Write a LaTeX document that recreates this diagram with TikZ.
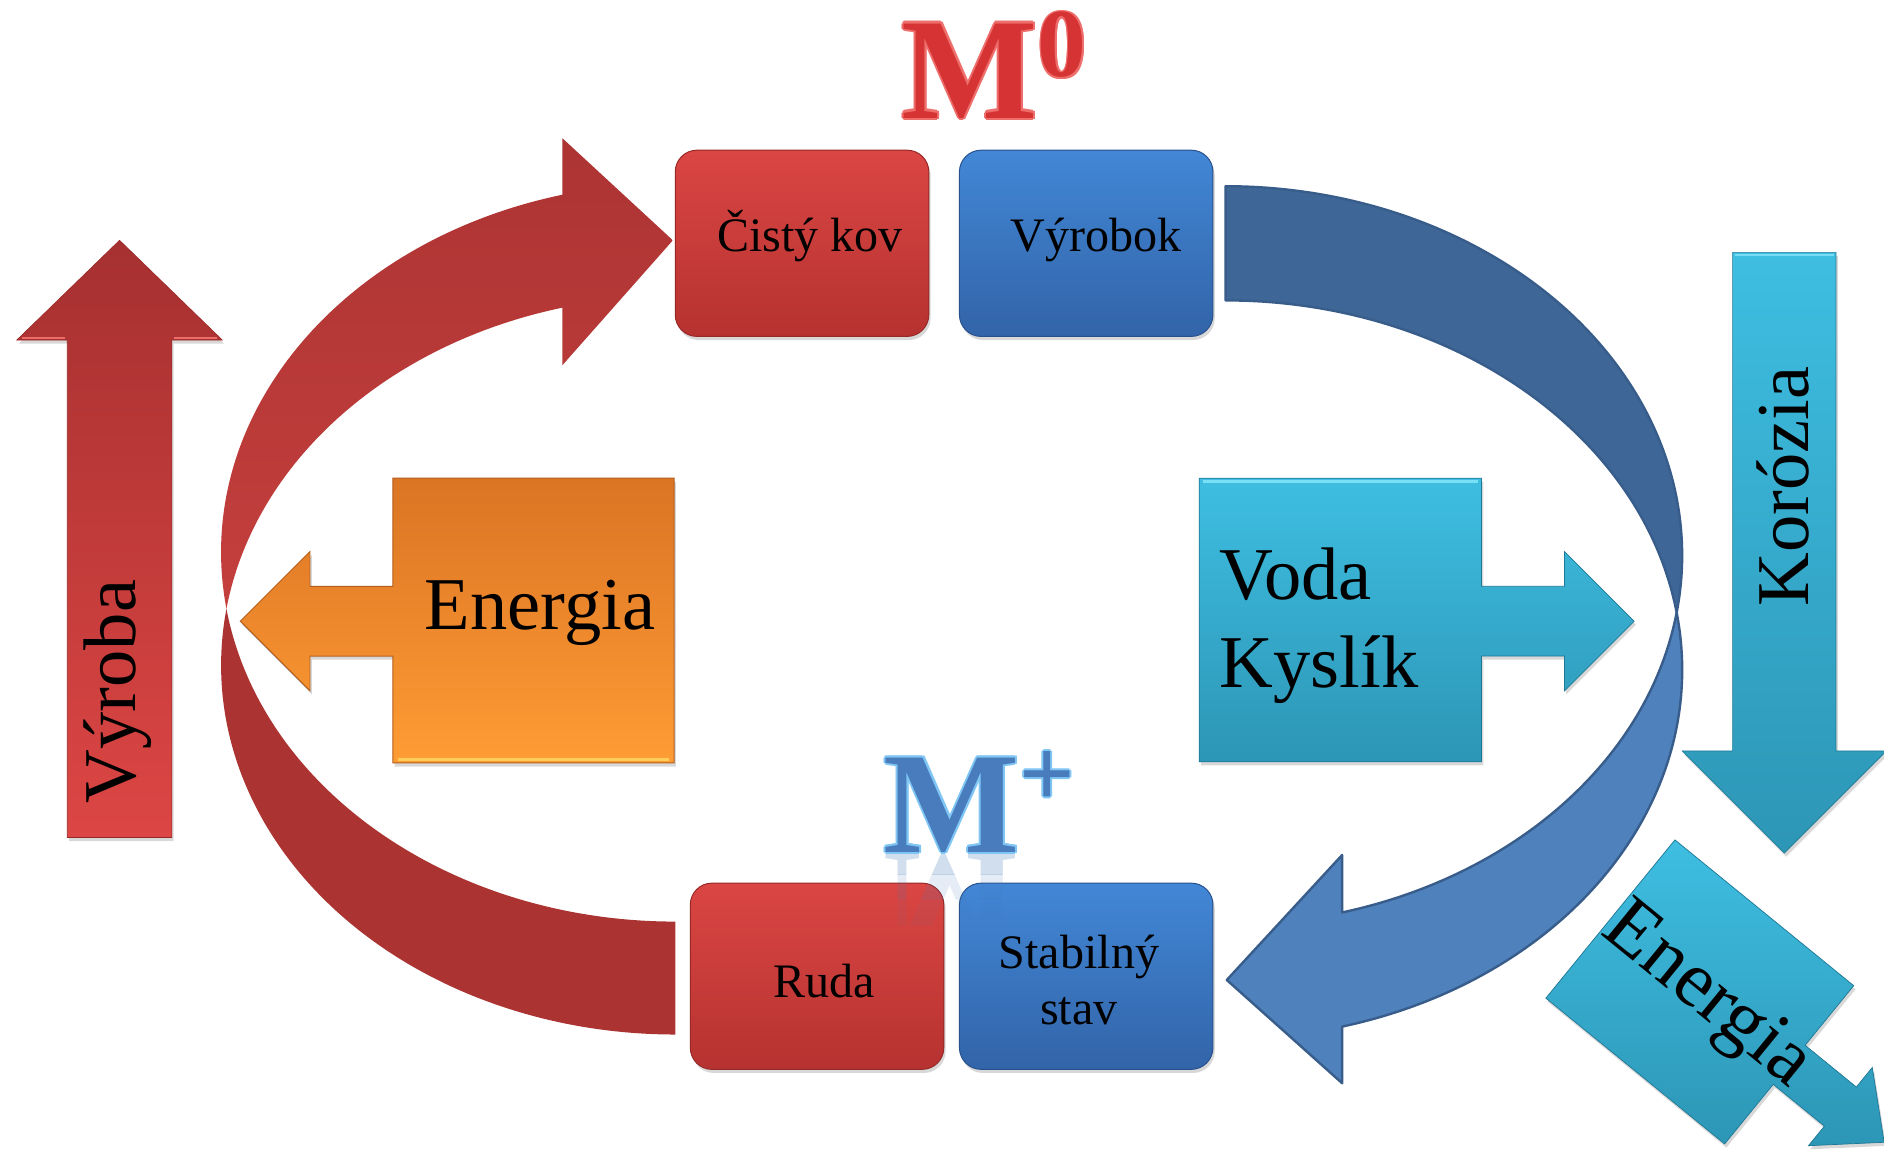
\documentclass[tikz,border=0pt]{standalone}
\usepackage{fontspec}
\setmainfont{Liberation Serif}
\usetikzlibrary{shadows,calc}
\definecolor{redT}{RGB}{218,70,67}
\definecolor{redB}{RGB}{182,50,48}
\definecolor{redD}{RGB}{150,40,38}
\definecolor{bluT}{RGB}{66,135,214}
\definecolor{bluB}{RGB}{50,100,168}
\definecolor{bluD}{RGB}{40,80,140}
\definecolor{arcRedA}{RGB}{172,52,51}
\definecolor{arcRedB}{RGB}{196,63,61}
\definecolor{arcRedBack}{RGB}{171,52,51}
\definecolor{arcBlueFront}{RGB}{79,129,189}
\definecolor{arcBlueBack}{RGB}{62,103,151}
\definecolor{arcBlueLine}{RGB}{56,93,138}
\definecolor{orT}{RGB}{219,116,36}
\definecolor{orB}{RGB}{254,156,52}
\definecolor{orD}{RGB}{180,95,30}
\definecolor{cyT}{RGB}{62,190,225}
\definecolor{cyB}{RGB}{45,150,182}
\definecolor{cyD}{RGB}{30,120,150}
\definecolor{vyT}{RGB}{166,48,48}
\definecolor{vyB}{RGB}{220,70,68}
\definecolor{mred}{RGB}{214,52,52}
\definecolor{mredL}{RGB}{238,110,108}
\definecolor{mblue}{RGB}{72,124,188}
\definecolor{mblueL}{RGB}{128,198,245}
\begin{document}
\begin{tikzpicture}[x=1pt,y=-1pt,
  shad/.style={drop shadow={opacity=0.3,shadow xshift=1.5pt,shadow yshift=-3pt}},
  redbox/.style={shad,rounded corners=18pt,top color=redT,bottom color=redB,draw=redD,line width=0.8pt,minimum width=211pt,minimum height=155pt,inner sep=0pt},
  bluebox/.style={shad,rounded corners=18pt,top color=bluT,bottom color=bluB,draw=bluD,line width=0.8pt,minimum width=211pt,minimum height=155pt,inner sep=0pt},
  lbl/.style={font=\fontsize{40}{48}\selectfont,inner sep=0pt},
  big/.style={font=\fontsize{62}{74}\selectfont,inner sep=0pt},
  bigm/.style={font=\fontsize{120}{120}\selectfont\bfseries,inner sep=0pt},
  supm/.style={font=\fontsize{81}{81}\selectfont\bfseries,inner sep=0pt},
  orangecall/.style={shad,top color=orT,bottom color=orB,draw=orD,line width=0.8pt},
  cyancall/.style={shad,top color=cyT,bottom color=cyB,draw=cyD,line width=0.6pt},
  redup/.style={shad,top color=vyT,bottom color=vyB,draw=redD,line width=0.5pt},
  cyandown/.style={shad,top color=cyT,bottom color=cyB,draw=cyD,line width=0.5pt},
  bluearc/.style={draw=arcBlueLine,line width=2pt,line join=round}
]
\fill[white] (0,0) rectangle (1568,957);
\useasboundingbox (0,0) rectangle (1568,957);

% ---------- red curved arrow (Ruda -> Cisty kov)
\coordinate (c1) at (562,459.7);
\coordinate (c2) at (562,553.7);
\fill[arcRedBack] ($(c2)+(188.8:378 and 307.3)$)
   arc[start angle=188.8,end angle=90,x radius=378,y radius=307.3]
   -- ($(c1)+(90:378 and 307.3)$)
   arc[start angle=90,end angle=171.2,x radius=378,y radius=307.3] -- cycle;
\path[top color=arcRedA,bottom color=arcRedB] ($(c1)+(171.2:378 and 307.3)$)
   arc[start angle=171.2,end angle=255.6,x radius=378,y radius=307.3]
   -- (468,115) -- (560,200) -- (468,304)
   -- ($(c2)+(255.6:378 and 307.3)$)
   arc[start angle=255.6,end angle=188.8,x radius=378,y radius=307.3] -- cycle;

% ---------- blue curved arrow (Vyrobok -> Stabilny stav)
\coordinate (ca) at (1020,557.3);
\coordinate (cb) at (1020,462.3);
\path[bluearc,fill=arcBlueBack] ($(cb)+(270:380 and 307.3)$)
   arc[start angle=270,end angle=368.9,x radius=380,y radius=307.3]
   -- ($(ca)+(351.1:380 and 307.3)$)
   arc[start angle=351.1,end angle=270,x radius=380,y radius=307.3] -- cycle;
\path[bluearc,fill=arcBlueFront] ($(ca)+(-8.9:380 and 307.3)$)
   arc[start angle=-8.9,end angle=75.2,x radius=380,y radius=307.3]
   -- (1117,901.5) -- (1021,815.6) -- (1117,711.6)
   -- ($(cb)+(75.2:380 and 307.3)$)
   arc[start angle=75.2,end angle=8.9,x radius=380,y radius=307.3] -- cycle;

% ---------- vertical arrows
\path[redup] (99.5,200) -- (185,283) -- (143,283) -- (143,697) -- (56,697) -- (56,283) -- (14,283) -- cycle;
\draw[line width=2pt,color={rgb,255:red,236;green,110;blue,105}] (18,281.5) -- (54,281.5) (145,281.5) -- (181,281.5);
\path[cyandown] (1442,210) -- (1528,210) -- (1528,625) -- (1570,625) -- (1485,710) -- (1400,625) -- (1442,625) -- cycle;
\draw[line width=2pt,color={rgb,255:red,120;green,220;blue,245}] (1444,212) -- (1526,212);
\node[big,rotate=90,anchor=base] (vyroba) at (113,575.5) {Výroba};
\node[big,rotate=90,anchor=base] (korozia) at (1505,405) {Korózia};

% ---------- orange callout
\path[orangecall] (561,398) -- (561,635) -- (327,635) -- (327,546) -- (258,546) -- (258,575)
   -- (200,517) -- (258,459) -- (258,488) -- (327,488) -- (327,398) -- cycle;
\draw[line width=2.5pt,color={rgb,255:red,255;green,205;blue,90}] (331,632) -- (557,632);
\node[big,anchor=base] (energia1) at (449.5,524) {Energia};

% ---------- cyan callout
\path[cyancall] (998,398) -- (1233,398) -- (1233,488) -- (1302,488) -- (1302,459) -- (1360,517)
   -- (1302,575) -- (1302,546) -- (1233,546) -- (1233,634) -- (998,634) -- cycle;
\draw[line width=2.5pt,color={rgb,255:red,120;green,225;blue,248}] (1001,400.5) -- (1230,400.5);
\node[big,anchor=base west] (voda) at (1015,499) {Voda};
\node[big,anchor=base west] (kyslik) at (1015,572) {Kyslík};

% ---------- rotated energy callout
\begin{scope}[shift={(1394,699)},rotate=-39.2]
\path[cyancall] (0,0) -- (192,0) -- (192,64) -- (247,64) -- (247,43) -- (294,85) -- (247,127)
   -- (247,106) -- (192,106) -- (192,170) -- (0,170) -- cycle;
\node[font=\fontsize{66}{78}\selectfont,inner sep=0pt,rotate=-39.2,anchor=base] (energia2) at (103,100) {Energia};
\end{scope}

% ---------- boxes
\node[redbox] (cisty) at (667.5,202.5) {};
\node[bluebox] (vyrobok) at (904,202.5) {};
\node[redbox] (ruda) at (680,812.5) {};
\node[bluebox] (stabil) at (904,812.5) {};
\node[lbl,anchor=base] (tcisty) at (674,209) {Čistý kov};
\node[lbl,anchor=base] (tvyrobok) at (912,209) {Výrobok};
\node[lbl,anchor=base] (truda) at (686,830) {Ruda};
\node[lbl,anchor=base] (tstab1) at (898,806) {Stabilný};
\node[lbl,anchor=base] (tstab2) at (898,853) {stav};

% ---------- M labels (light rim + solid face)
\foreach \a in {0,45,...,315}{
  \node[bigm,text=mredL] (mzr\a) at ($(807,59)+(\a:1.8)$) {M};
  \node[supm,text=mredL] (mzs\a) at ($(884,37.5)+(\a:1.5)$) {0};
}
\node[bigm,text=mred] (m0) at (807,59) {M};
\node[supm,text=mred] (m0sup) at (884,37.5) {0};
\begin{scope}
\clip (700,711) rectangle (900,728);
\node[bigm,text=mblue,yscale=-1,opacity=0.25] (mrefa) at (792,750) {M};
\end{scope}
\begin{scope}
\clip (700,728) rectangle (900,748);
\node[bigm,text=mblue,yscale=-1,opacity=0.14] (mrefb) at (792,750) {M};
\end{scope}
\begin{scope}
\clip (700,748) rectangle (900,770);
\node[bigm,text=mblue,yscale=-1,opacity=0.06] (mrefc) at (792,750) {M};
\end{scope}
\foreach \a in {0,45,...,315}{
  \node[bigm,text=mblueL] (mpr\a) at ($(792,670)+(\a:1.8)$) {M};
  \node[supm,text=mblueL] (mps\a) at ($(871.5,648.5)+(\a:1.5)$) {+};
}
\node[bigm,text=mblue] (mplus) at (792,670) {M};
\node[supm,text=mblue] (mplussup) at (871.5,648.5) {+};
\end{tikzpicture}
\end{document}
